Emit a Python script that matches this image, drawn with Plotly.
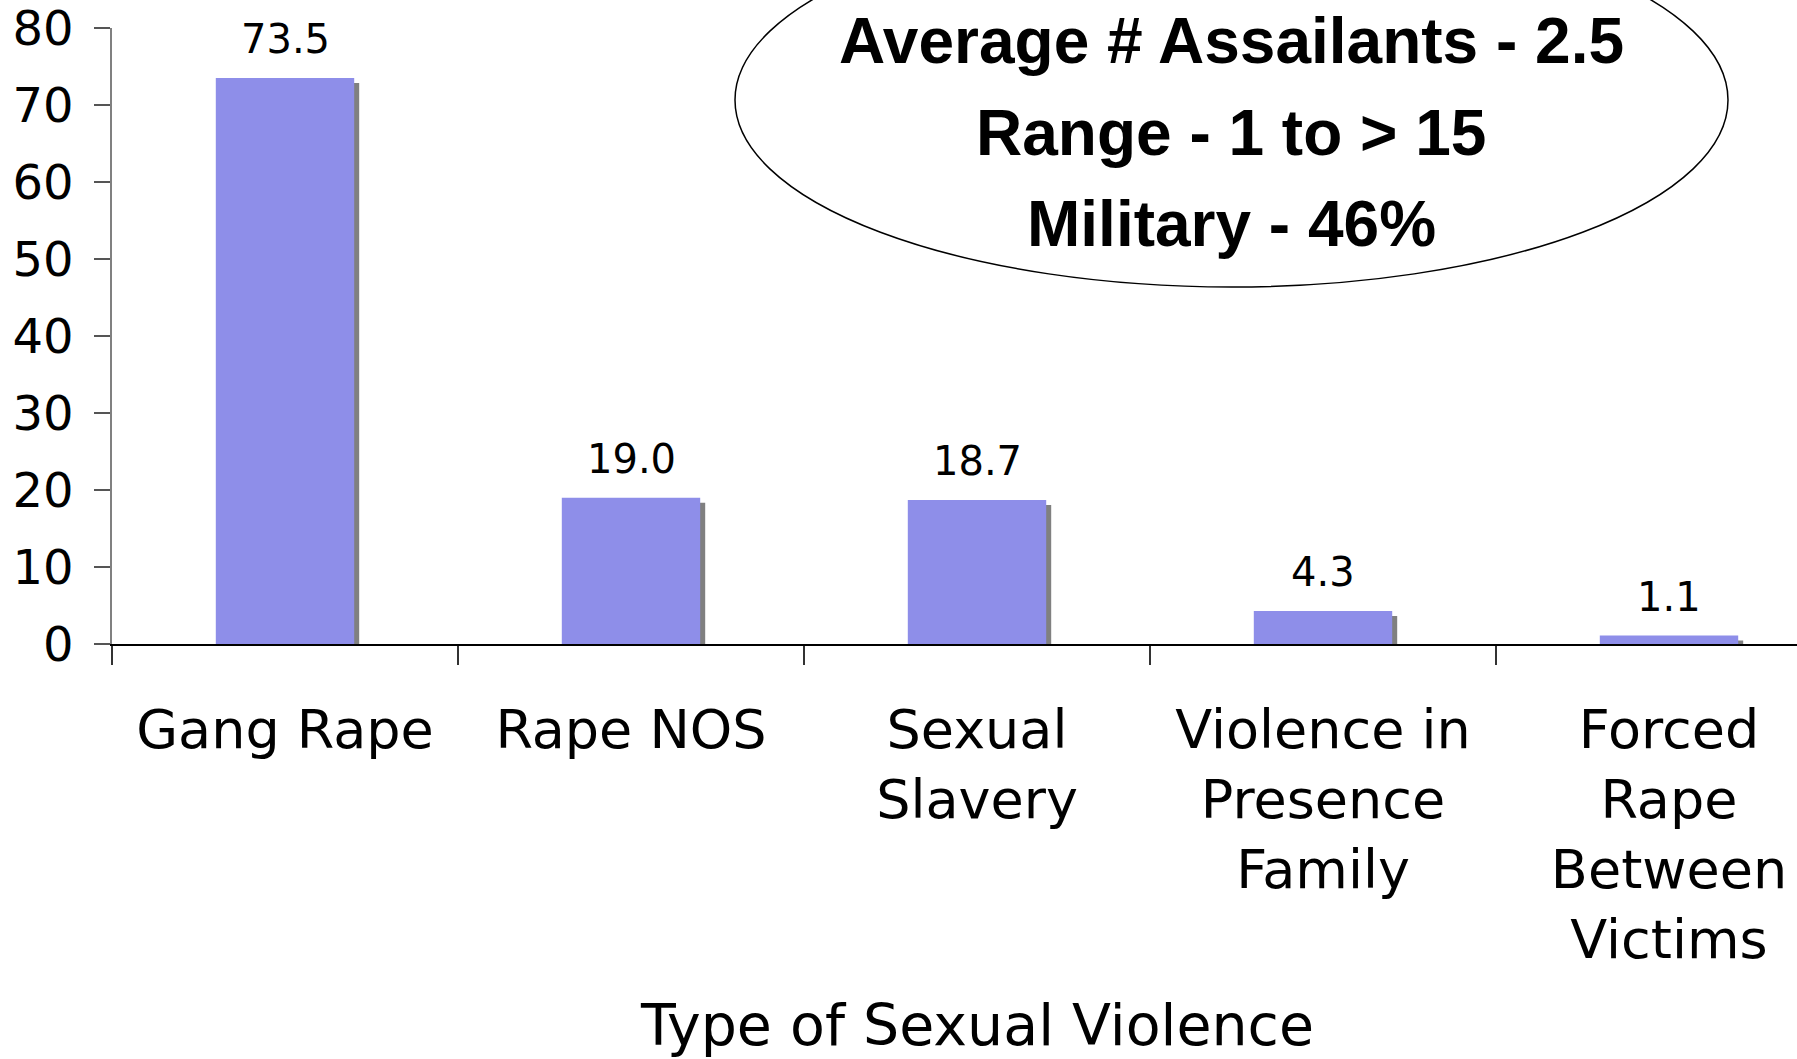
import plotly.graph_objects as go

categories = ["Gang Rape", "Rape NOS", "Sexual<br>Slavery",
              "Violence in<br>Presence<br>Family", "Forced<br>Rape<br>Between<br>Victims"]
values = [73.5, 19.0, 18.7, 4.3, 1.1]
y_ticks = [0, 10, 20, 30, 40, 50, 60, 70, 80]
x_title = "Type of Sexual Violence"
info_lines = ["Average # Assailants - 2.5", "Range - 1 to > 15", "Military - 46%"]

BAR = "#8E8EE9"
SHADOW = "#808080"
W, H = 1797, 1059
L, T, B = 112, 28, 415
px_per_unit = (H - T - B) / 80.0
cat_px = 346.0
shadow_px = 5

fig = go.Figure()
# shadow bars
fig.add_trace(go.Bar(
    x=categories, y=[v - shadow_px / px_per_unit for v in values],
    width=0.4, offset=-0.2 + shadow_px / cat_px,
    marker=dict(color=SHADOW, line=dict(width=0)), hoverinfo="skip", showlegend=False))
# main bars
fig.add_trace(go.Bar(
    x=categories, y=values, width=0.4, offset=-0.2,
    marker=dict(color=BAR, line=dict(width=0)), showlegend=False))

annotations = []
for c, v in zip(categories, values):
    annotations.append(dict(x=c, y=v, xref="x", yref="y", text=f"{v:.1f}",
                            showarrow=False, yanchor="middle", yshift=39,
                            font=dict(family="DejaVu Sans", size=40, color="black")))

annotations.append(dict(x=2, y=(644 - 1025) / (H - T - B), xref="x", yref="paper",
                        text=x_title, showarrow=False, xanchor="center", yanchor="middle",
                        font=dict(family="DejaVu Sans", size=57, color="black")))

plot_w = W - L
cx_paper = (1231 - L) / plot_w
for line, py in zip(info_lines, [41, 133, 224]):
    annotations.append(dict(x=cx_paper, y=(644 - py) / (H - T - B), xref="paper", yref="paper",
                            text=f"<b>{line}</b>", showarrow=False, xanchor="center",
                            yanchor="middle",
                            font=dict(family="Liberation Sans", size=64, color="black")))

fig.add_shape(type="circle", xref="paper", yref="paper",
              x0=(735 - L) / plot_w, x1=(1728 - L) / plot_w,
              y0=(644 - 287) / (H - T - B), y1=(644 + 87) / (H - T - B),
              line=dict(color="black", width=1.5), fillcolor="rgba(0,0,0,0)", layer="below")

n_vis = plot_w / cat_px
fig.update_layout(
    width=W, height=H, barmode="overlay",
    margin=dict(l=L, r=0, t=T, b=B, pad=0),
    paper_bgcolor="white", plot_bgcolor="white",
    annotations=annotations,
    bargap=0.6,
    xaxis=dict(type="category", range=[-0.5, -0.5 + n_vis], tickson="boundaries",
               ticks="outside", ticklen=19, tickcolor="#333333", tickwidth=1.5,
               showline=True, linecolor="black", linewidth=1.5, showgrid=False,
               tickfont=dict(family="DejaVu Sans", size=54, color="black"),
               ticklabelstandoff=37, ticklabeloverflow="allow", fixedrange=True),
    yaxis=dict(range=[0, 80], tickvals=y_ticks, ticks="outside", ticklen=16,
               tickcolor="#555555", tickwidth=1.5, showline=True, linecolor="#808080",
               linewidth=1.5, showgrid=False, zeroline=False,
               tickfont=dict(family="DejaVu Sans", size=48, color="black"),
               ticklabelstandoff=11, ticklabeloverflow="allow"),
)

fig.write_html("out.html")
